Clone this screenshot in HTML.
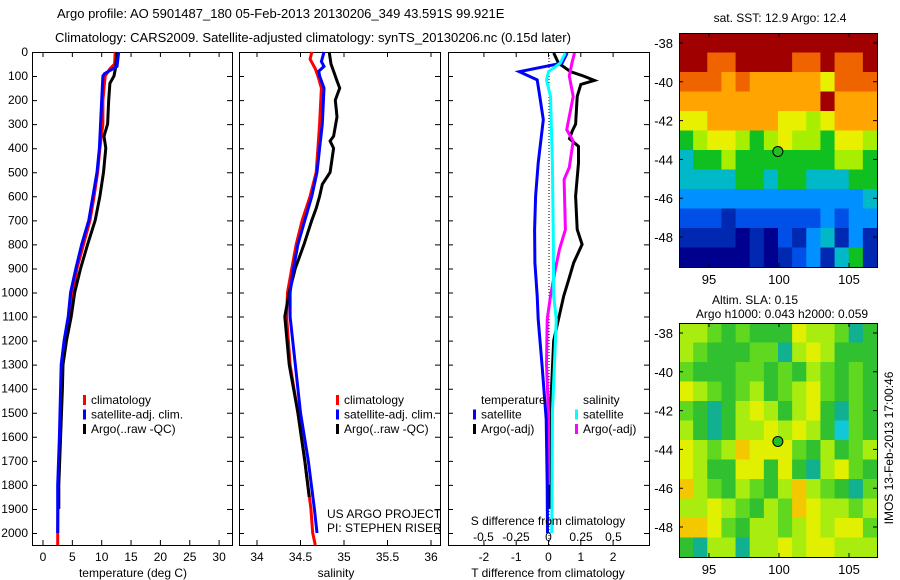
<!DOCTYPE html>
<html><head><meta charset="utf-8"><style>
body{margin:0;background:#fff}
svg{display:block;font-family:"Liberation Sans",sans-serif;font-size:12px}
</style></head><body>
<svg id="fig" width="900" height="580" viewBox="0 0 900 580" xmlns="http://www.w3.org/2000/svg">
<rect width="900" height="580" fill="#fff"/>
<text x="57" y="18" font-size="13">Argo profile: AO 5901487_180 05-Feb-2013 20130206_349 43.591S 99.921E</text>
<text x="55" y="42" font-size="13">Climatology: CARS2009. Satellite-adjusted climatology: synTS_20130206.nc (0.15d later)</text>
<g id="g"></g>
</svg>
<script>
// ---- data ----
const depthTicks=[0,100,200,300,400,500,600,700,800,900,1000,1100,1200,1300,1400,1500,1600,1700,1800,1900,2000];
const tTicks=[0,5,10,15,20,25,30];
const sTicks=[34,34.5,35,35.5,36];
const dtTicks=[-2,-1,0,1,2];
const dsTicks=[-0.5,-0.25,0,0.25,0.5];
const dsTickLabels=["-0.5","-0.25","0","0.25","0.5"];
// temperature panel
const tClimDepth=[0,50,70,100,200,300,400,500,600,700,800,900,1000,1100,1200,1300,1400,1600,1800,2000,2050];
const tClim=[12.3,12.2,11.4,10.6,10.2,10.2,9.7,9.3,8.7,8.0,6.9,5.8,5.1,4.6,3.8,3.3,3.1,2.9,2.6,2.5,2.5];
const tSatDepth=[0,60,90,100,200,400,500,600,700,800,900,1000,1100,1200,1300,1400,1600,1800,2000];
const tSat=[12.9,12.6,10.5,10.2,10.0,9.6,9.2,8.5,7.8,6.6,5.6,4.7,4.3,3.6,3.1,3.0,2.8,2.5,2.5];
const tArgoDepth=[0,60,100,130,200,300,350,400,500,600,700,800,900,1000,1100,1200,1300,1400,1600,1800,1900];
const tArgo=[12.6,12.4,12.1,11.4,11.2,11.0,10.4,10.7,10.3,9.7,8.9,7.6,6.4,5.4,4.8,4.0,3.4,3.3,3.0,2.7,2.7];
// salinity panel
const sClimDepth=[0,30,70,100,150,300,500,600,700,800,900,1000,1100,1300,1500,1700,1900,2000,2050];
const sClim=[34.63,34.61,34.67,34.70,34.74,34.72,34.68,34.61,34.52,34.45,34.40,34.35,34.34,34.38,34.47,34.55,34.62,34.64,34.67];
const sSatDepth=[0,40,60,80,100,150,300,400,500,600,700,800,900,1000,1100,1300,1500,1700,1900,2000];
const sSat=[34.77,34.74,34.77,34.71,34.72,34.77,34.75,34.72,34.69,34.63,34.55,34.47,34.42,34.38,34.38,34.44,34.50,34.59,34.66,34.69];
const sArgoDepth=[0,50,80,120,150,200,270,350,370,400,500,550,600,650,700,800,900,1000,1100,1300,1500,1700,1850];
const sArgo=[34.83,34.85,34.88,34.92,34.95,34.90,34.92,34.88,34.84,34.88,34.84,34.75,34.72,34.68,34.63,34.54,34.44,34.37,34.32,34.37,34.47,34.55,34.60];
// difference panel
const dTSatDepth=[4,46,82,116,185,282,461,600,739,876,1015,1112,1300,1527,1800,2000];
const dTSat=[0.58,0.42,-0.9,-0.35,-0.27,-0.16,-0.32,-0.40,-0.43,-0.42,-0.35,-0.32,-0.2,-0.07,-0.04,-0.03];
const dSSatDepth=[4,46,82,116,185,461,739,1015,1112,1500,2000];
const dSSat=[0.13,0.09,0.0,-0.015,0.015,0.03,0.036,0.04,0.06,0.03,0.025];
const dTArgoDepth=[4,46,82,100,118,135,185,300,330,360,392,461,600,738,800,876,945,1015,1200,1500,1800,1900];
const dTArgo=[0.16,0.31,0.68,1.08,1.42,1.0,0.89,0.84,0.73,0.65,0.93,0.93,0.84,0.89,1.04,0.78,0.63,0.47,0.16,0.06,0.03,0.03];
const dSArgoDepth=[4,46,100,185,323,370,480,530,738,820,900,1015,1112,1300,1500,1800];
const dSArgo=[0.2,0.18,0.16,0.19,0.14,0.19,0.16,0.12,0.13,0.085,0.054,0.015,-0.01,-0.015,0.0,0.0];
// maps (colour index grids, rows north->south, 1-degree cells from 93E)
const sstRows=["AAAAAAAAAAAAAA","AA99AAAA99A99A","99989888887999","8888888888A888","77888887767888","56776567665776","45565555555665","44445545544455","33333333333334","22212222223233","11110102134131","00000101231451"];
const slaRows=["44323222544312","43222331454222","32223323243232","54323423453232","32124542452132","42124454542032","54346555324234","54225525214532","64324324643213","44543243654434","66532443454553","21441445455444"];
const sstLabel="sat. SST: 12.9 Argo: 12.4";
const argoLon=[99.92], argoLat=[-43.59];
const lonTicks=[95,100,105], latTicks=[-38,-40,-42,-44,-46,-48];

// ---- helpers ----
const NS="http://www.w3.org/2000/svg";
const G=document.getElementById('g');
function el(tag,attrs,parent){const e=document.createElementNS(NS,tag);for(const k in attrs)e.setAttribute(k,attrs[k]);(parent||G).appendChild(e);return e;}
function txt(x,y,s,anchor,parent,size){const t=el('text',{x:x,y:y,'text-anchor':anchor||'start'},parent);if(size)t.setAttribute('font-size',size);t.textContent=s;return t;}
const Y0=52,PY=0.2405;
const yD=d=>Y0+d*PY;
const xT=v=>43+v*5.87;
const xS=v=>257+(v-34)*87;
const xDT=v=>548.5+v*32.3;
const xDS=v=>548.5+v*130;

function panel(name,x0,x1){
  const g=el('g',{});
  
  
  el('rect',{x:x0+0.5,y:Y0+0.5,width:x1-x0,height:545-Y0,fill:'none',stroke:'#000'},g);
  depthTicks.forEach(d=>{const y=yD(d)+0.5;el('path',{d:`M${x0} ${y}h5M${x1} ${y}h-5`,stroke:'#000'},g);});
  return g;
}
function line(name,ds,vs,xf,color,parent){
  let p='';ds.forEach((d,i)=>{p+=(i?'L':'M')+xf(vs[i]).toFixed(1)+' '+yD(d).toFixed(1);});
  const e=el('path',{d:p,fill:'none',stroke:color,'stroke-width':3,'stroke-linejoin':'miter'},parent);
  
  
}
// depth labels
const yl=el('g',{});


depthTicks.forEach(d=>txt(28,yD(d)+4,String(d),'end',yl));

// panel 1
const p1=panel('temperature-panel',32,232);
tTicks.forEach(v=>{const x=xT(v);el('path',{d:`M${x} ${Y0}v5M${x} 545v-5`,stroke:'#000'},p1);txt(x,561,String(v),'middle',p1);});
txt(133,577,'temperature (deg C)','middle',p1);
line('temperature-climatology-line',tClimDepth,tClim,xT,'#f00',p1);
line('temperature-argo-line',tArgoDepth,tArgo,xT,'#000',p1);
line('temperature-satellite-line',tSatDepth,tSat,xT,'#00f',p1);
// panel 2
const p2=panel('salinity-panel',239,440);
sTicks.forEach(v=>{const x=xS(v);el('path',{d:`M${x} ${Y0}v5M${x} 545v-5`,stroke:'#000'},p2);txt(x,561,String(v),'middle',p2);});
txt(336,577,'salinity','middle',p2);
line('salinity-climatology-line',sClimDepth,sClim,xS,'#f00',p2);
line('salinity-argo-line',sArgoDepth,sArgo,xS,'#000',p2);
line('salinity-satellite-line',sSatDepth,sSat,xS,'#00f',p2);
txt(327,518,'US ARGO PROJECT','start',p2);
txt(327,532,'PI: STEPHEN RISER','start',p2);
// panel 3
const p3=panel('difference-panel',448,649);
dtTicks.forEach(v=>{const x=xDT(v);el('path',{d:`M${x} ${Y0}v5M${x} 545v-5`,stroke:'#000'},p3);txt(x,561,String(v),'middle',p3);});
txt(548,577,'T difference from climatology','middle',p3);
el('line',{x1:549,y1:Y0,x2:549,y2:545,stroke:'#000','stroke-dasharray':'1,2'},p3);
line('temp-diff-argo-line',dTArgoDepth,dTArgo,xDT,'#000',p3);
line('sal-diff-argo-line',dSArgoDepth,dSArgo,xDS,'#f0f',p3);
line('temp-diff-satellite-line',dTSatDepth,dTSat,xDT,'#00f',p3);
line('sal-diff-satellite-line',dSSatDepth,dSSat,xDS,'#0ff',p3);
txt(548,525,'S difference from climatology','middle',p3);
dsTicks.forEach((v,i)=>txt(xDS(v),541,dsTickLabels[i],'middle',p3));

function legend(name,x,y,items,parent){
  const g=el('g',{},parent);
  
  
  items.forEach((it,i)=>{const yy=y+i*14.5;
    if(it[1])el('rect',{x:x,y:yy-9,width:3,height:10,fill:it[1]},g);
    txt(x+8,yy,it[0],'start',g);});
}
legend('temperature-legend',83,404,[['climatology','#f00'],['satellite-adj. clim.','#00f'],['Argo(..raw -QC)','#000']],p1);
legend('salinity-legend',336,404,[['climatology','#f00'],['satellite-adj. clim.','#00f'],['Argo(..raw -QC)','#000']],p2);
legend('diff-temp-legend',473,404,[['temperature',null],['satellite','#00f'],['Argo(-adj)','#000']],p3);
legend('diff-sal-legend',575,404,[['salinity',null],['satellite','#0ff'],['Argo(-adj)','#f0f']],p3);

// maps
const sstColors={'0':'#00008f','1':'#0028b0','2':'#0050e8','3':'#0090ff','4':'#00b8c8','5':'#10c020','6':'#a8ee00','7':'#e8f000','8':'#ffa400','9':'#f06400','A':'#a00000'};
const slaColors={'0':'#10c8d8','1':'#10b090','2':'#30c030','3':'#60d820','4':'#a8ec10','5':'#e0f000','6':'#f4c800'};
const MX0=679,MX1=877,LON0=92.86,LON1=107.0;
const mx=lon=>MX0+(lon-LON0)*(MX1-MX0)/(LON1-LON0);
function map(name,top,rows,colors,title){
  const g=el('g',{});
  
  
  const my=lat=>top+10+(-38-lat)*19.4;
  const bottom=top+234;
  const cw=(MX1-MX0)/14, ch=(bottom-top)/12;
  rows.forEach((r,i)=>{for(let j=0;j<r.length;j++){
    const c=el('rect',{x:(MX0+j*cw).toFixed(2),y:(top+i*ch).toFixed(2),width:(cw+0.6).toFixed(2),height:(ch+0.6).toFixed(2),fill:colors[r[j]]},g);
    
    
  }});
  el('rect',{x:MX0+0.5,y:top+0.5,width:MX1-MX0,height:bottom-top,fill:'none',stroke:'#000'},g);
  latTicks.forEach(l=>{const y=my(l);el('path',{d:`M${MX0} ${y}h4M${MX1} ${y}h-4`,stroke:'#000'},g);txt(673,y+5,String(l),'end',g,13);});
  lonTicks.forEach(l=>{const x=mx(l);el('path',{d:`M${x} ${top}v4M${x} ${bottom}v-4`,stroke:'#000'},g);txt(x,bottom+17,String(l),'middle',g,13);});
  const dot=el('circle',{cx:mx(argoLon[0]),cy:my(argoLat[0]),r:5,fill:'#22c022',stroke:'#000'},g);
  
  
  return g;
}
const m1=map('sst-map',33,sstRows,sstColors);
txt(780,22,sstLabel,'middle',m1);
const m2=map('sla-map',323,slaRows,slaColors);
txt(755,304,'Altim. SLA: 0.15','middle',m2);
txt(782,318,'Argo h1000: 0.043 h2000: 0.059','middle',m2);
const st=txt(0,0,'IMOS 13-Feb-2013 17:00:46','middle',null,12);
st.setAttribute('transform','translate(893,448) rotate(-90)');


</script>
</body></html>
